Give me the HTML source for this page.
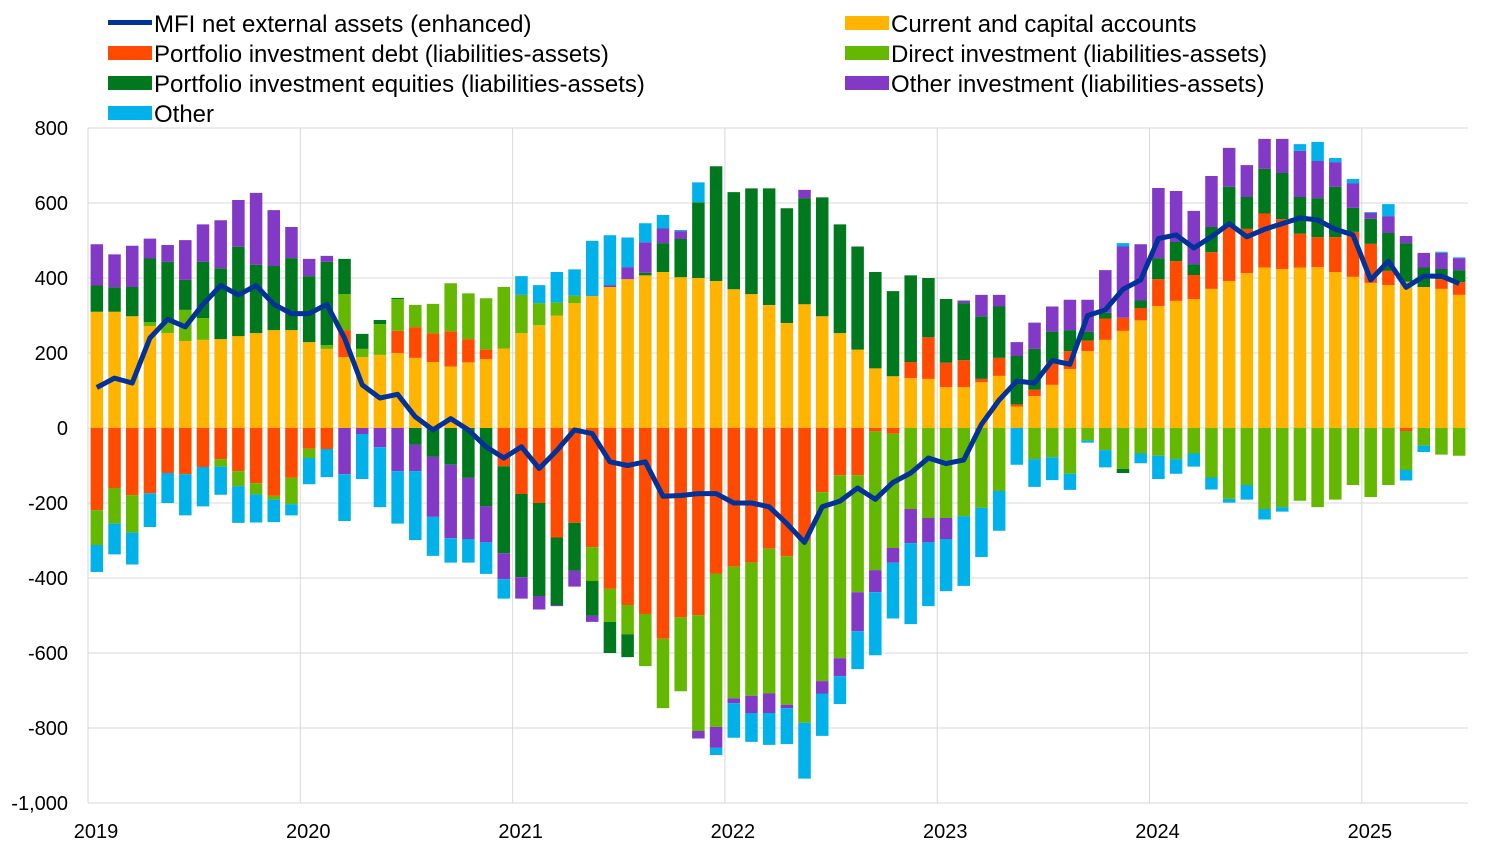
<!DOCTYPE html>
<html><head><meta charset="utf-8">
<style>
body{margin:0;background:#fff;font-family:"Liberation Sans",Arial,sans-serif;}
svg text{font-family:"Liberation Sans",Arial,sans-serif;}
</style></head>
<body>
<svg id="chart" width="1500" height="855" xmlns="http://www.w3.org/2000/svg">
<g id="grid"></g>
<g id="bars"></g>
<g id="line"></g>
<g id="axes"></g>
<g id="legend"></g>
</svg>
<script>
const years = ["2019","2020","2021","2022","2023","2024","2025"];
const yTicks = [800,600,400,200,0,-200,-400,-600,-800,-1000];
const yTickLabels = ["800","600","400","200","0","-200","-400","-600","-800","-1,000"];
const cur = [310,310,298,272,253,232,235,237,245,253,261,261, 229,211,189,189,195,200,187,176, 164,175,184,212, 253,274,300,333,352,376,397,407,416,402,400,392, 370,357,328,280,330,298,253,209,159,138,133,131, 109,109,122,139,57,85,115,157,205,235,259,287, 325,339,344,371,392,413,428,424,428,429,416,403, 387,381,390,376,371,355];
const pid = [-219,-160,-179,-174,-120,-123,-104,-83,-115,-147,-181,-133, -55,-56,72,0,0,59,82,77, 94,62,25,-102, -176,-200,-292,-253,-318,-429,-472,-496,-562,-505,-499,-388, -370,-359,-322,-342,-300,-171,-126,-126,-9,-15,43,111, 65,72,9,48,6,17,61,48,28,57,35,33, 72,106,64,98,145,118,144,133,90,80,93,120, 104,38,-8,0,26,34];
const di = [-93,-95,-100,10,30,83,58,-20,-40,-30,-10,-70, -25,10,96,22,82,85,59,78, 128,122,137,164, 102,59,35,20,-90,-88,-78,-139,-185,-197,-309,-409, -351,-355,-386,-396,-486,-504,-488,-312,-370,-305,-216,-240, -240,-235,-213,-168,0,-83,-78,-122,-33,-59,-109,-68, -74,-83,-68,-132,-189,-152,-216,-211,-194,-211,-191,-152, -184,-152,-104,-47,-71,-74];
const pie = [70,65,78,170,160,80,150,189,238,182,171,192, 176,222,94,40,11,3,-45,-77, -98,-133,-209,-232, -222,-248,-180,-128,-93,-83,-61,7,77,102,202,306, 259,282,311,306,283,317,290,275,257,227,231,158, 170,152,167,137,129,109,81,56,24,15,-11,20, 56,51,29,67,106,85,119,123,98,104,134,64, 67,101,103,52,27,32];
const oi = [110,88,110,53,45,106,100,128,125,192,149,83, 46,16,-123,-16,-51,-115,-70,-160, -196,-163,-96,-69, -57,-36,-3,-42,-16,5,32,81,39,21,-20,-56, -13,-46,-52,-9,22,-33,-48,-104,-59,-39,-91,-65, -56,7,57,31,37,70,67,81,85,114,190,150, 187,136,142,136,104,85,80,91,123,99,66,66, 16,45,19,39,43,32];
const oth = [-72,-82,-85,-90,-80,-110,-105,-75,-98,-75,-60,-30, -70,-75,-125,-120,-160,-140,-184,-104, -65,-63,-84,-52, 50,48,81,70,147,133,79,51,36,3,53,-19, -92,-77,-85,-96,-149,-113,-74,-101,-168,-149,-216,-170, -139,-186,-131,-106,-98,-74,-61,-43,-6,-46,9,-26, -62,-39,-35,-32,-10,-39,-28,-12,18,51,11,11, 2,32,-28,-17,3,2];
const mfi = [108,133,120,240,290,270,330,380,355,380,330,305, 305,330,240,115,80,90,30,-5, 25,-5,-50,-80, -50,-108,-60,-5,-15,-90,-100,-90,-182,-180,-175,-175, -200,-200,-210,-255,-305,-210,-195,-160,-190,-145,-120,-80, -95,-85,10,75,125,120,180,170,300,315,370,395, 505,515,480,510,545,510,530,545,560,555,530,515, 395,445,375,405,405,385];

const NS="http://www.w3.org/2000/svg";
const X0=88, X1=1468, MW=(X1-X0)/78, BW=12.5;
function yS(v){return 428 - v*0.375;}
function xC(i){return X0 + MW*(i+0.5);}
function mk(tag,attrs,parent){const e=document.createElementNS(NS,tag);for(const k in attrs)e.setAttribute(k,attrs[k]);parent.appendChild(e);return e;}

const grid=document.getElementById('grid');
yTicks.forEach((t,k)=>{
  const l=mk('line',{x1:X0,x2:X1,y1:yS(t),y2:yS(t),stroke:'#d9d9d9','stroke-width':1},grid);
  
  
});
years.forEach((y,k)=>{
  const x=X0+k*12*MW;
  const l=mk('line',{x1:x,x2:x,y1:128,y2:803,stroke:'#d9d9d9','stroke-width':1},grid);
  
  
});

const series=[
 {d:cur,c:'#FFB400',n:'current-capital'},
 {d:pid,c:'#FF4B00',n:'portfolio-debt'},
 {d:di,c:'#65B800',n:'direct-investment'},
 {d:pie,c:'#00781E',n:'portfolio-equities'},
 {d:oi,c:'#8139C6',n:'other-investment'},
 {d:oth,c:'#00B1EA',n:'other'}];
const bars=document.getElementById('bars');
for(let i=0;i<cur.length;i++){
  let pos=0,neg=0;
  series.forEach(s=>{
    const v=s.d[i]; if(!v) return;
    let a,b;
    if(v>0){a=pos;b=pos+v;pos=b;}else{a=neg;b=neg+v;neg=b;}
    const y1=yS(Math.max(a,b)), y2=yS(Math.min(a,b));
    const r=mk('rect',{x:xC(i)-BW/2,y:y1,width:BW,height:y2-y1,fill:s.c},bars);
    
    
  });
}
const lg=document.getElementById('line');
const pts=mfi.map((v,i)=>xC(i).toFixed(1)+','+yS(v).toFixed(1)).join(' ');
const pl=mk('polyline',{points:pts,fill:'none',stroke:'#003299','stroke-width':5,'stroke-linejoin':'round'},lg);



const axes=document.getElementById('axes');
yTicks.forEach((t,k)=>{
  const tx=mk('text',{x:68,y:yS(t)+7,'text-anchor':'end','font-size':20,fill:'#000'},axes);
  tx.textContent=yTickLabels[k];
  
  
});
years.forEach((y,k)=>{
  const tx=mk('text',{x:X0+k*12*MW+8,y:838,'text-anchor':'middle','font-size':20,fill:'#000'},axes);
  tx.textContent=y;
  
  
});

const legendItems=[
 {t:'MFI net external assets (enhanced)',c:'#003299',x:108,y:23,line:true},
 {t:'Current and capital accounts',c:'#FFB400',x:845,y:23},
 {t:'Portfolio investment debt (liabilities-assets)',c:'#FF4B00',x:108,y:53},
 {t:'Direct investment (liabilities-assets)',c:'#65B800',x:845,y:53},
 {t:'Portfolio investment equities (liabilities-assets)',c:'#00781E',x:108,y:83},
 {t:'Other investment (liabilities-assets)',c:'#8139C6',x:845,y:83},
 {t:'Other',c:'#00B1EA',x:108,y:113}];
const leg=document.getElementById('legend');
legendItems.forEach(it=>{
  const g=mk('g',{},leg);
  
  
  if(it.line) mk('rect',{x:it.x,y:it.y-3,width:44,height:5,fill:it.c},g);
  else mk('rect',{x:it.x,y:it.y-7,width:44,height:14,fill:it.c},g);
  const tx=mk('text',{x:it.x+46,y:it.y+9,'font-size':24,fill:'#000'},g);
  tx.textContent=it.t;
});
</script>
</body></html>
